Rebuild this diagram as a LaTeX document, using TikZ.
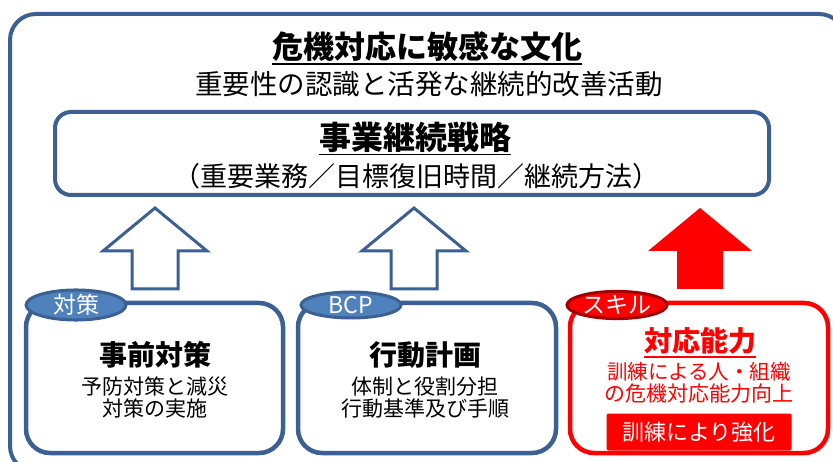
\documentclass[tikz,border=0pt]{standalone}
\usepackage{fontspec}
\setmainfont{Noto Sans CJK JP}
\usetikzlibrary{positioning,shapes.geometric}
\definecolor{frameblue}{RGB}{59,96,145}
\definecolor{tagblue}{RGB}{79,129,189}
\definecolor{tagred}{RGB}{160,0,0}

\begin{document}
\begin{tikzpicture}[x=1pt,y=-1pt]
\tikzset{box/.style={draw=frameblue,line width=4.5pt,rounded corners=24pt}}
\tikzset{tag/.style={ellipse,draw=frameblue,fill=tagblue,line width=3pt,minimum width=100pt,minimum height=26pt,inner sep=0pt,text=white,font=\fontsize{23}{23}\selectfont}}
\tikzset{txt/.style={inner sep=0pt,align=center}}
\tikzset{uline/.style={line width=1.8pt}}
\def\hd{52}
\def\sh{23}
\useasboundingbox (0,0) rectangle (833,462);
\clip (0,0) rectangle (833,462);
%
\draw[box,line width=4pt,rounded corners=26pt] (10,14) rectangle (845,472);
\node[txt,font=\fontsize{31}{31}\bfseries\selectfont] (culture) at (427,47) {危機対応に敏感な文化};
\draw[uline] ([yshift=-2pt]culture.south west) -- ([yshift=-2pt]culture.south east);
\node[txt,font=\fontsize{27.5}{27.5}\selectfont] (improve) at (429,84) {重要性の認識と活発な継続的改善活動};
%
\draw[box,line width=4pt,rounded corners=16pt] (55,112) rectangle (769,195);
\node[txt,font=\fontsize{32}{32}\bfseries\selectfont] (strategy) at (415,137) {事業継続戦略};
\draw[uline] ([yshift=-2pt]strategy.south west) -- ([yshift=-2pt]strategy.south east);
\node[txt,font=\fontsize{27}{27}\selectfont] (method) at (416,176) {（重要業務／目標復旧時間／継続方法）};
%
\foreach \cx in {155,414}
  \draw[frameblue,line width=3pt,fill=white] (\cx,208) -- (\cx+\hd,251) -- (\cx+\sh,251) -- (\cx+\sh,289)
    -- (\cx-\sh,289) -- (\cx-\sh,251) -- (\cx-\hd,251) -- cycle;
\fill[red] (700,208) -- (700+\hd,251) -- (700+\sh,251) -- (700+\sh,289)
    -- (700-\sh,289) -- (700-\sh,251) -- (700-\hd,251) -- cycle;
%
\draw[box] (26,303) rectangle (283,453);
\node[tag] (tagmeasure) at (76,305) {対策};
\node[txt,font=\fontsize{28}{28}\bfseries\selectfont] (prevent) at (155,355) {事前対策};
\node[txt,font=\fontsize{21}{21}\selectfont,below=8pt of prevent] (prevent1) {予防対策と減災};
\node[txt,font=\fontsize{21}{21}\selectfont,below=2pt of prevent1] (prevent2) {対策の実施};
%
\draw[box] (298,303) rectangle (556,453);
\node[tag] (tagbcp) at (351,305) {BCP};
\node[txt,font=\fontsize{28}{28}\bfseries\selectfont] (plan) at (425,355) {行動計画};
\node[txt,font=\fontsize{21}{21}\selectfont,below=8pt of plan] (plan1) {体制と役割分担};
\node[txt,font=\fontsize{21}{21}\selectfont,below=2pt of plan1] (plan2) {行動基準及び手順};
%
\draw[box,draw=red] (570,303) rectangle (828,453);
\node[tag,draw=tagred,fill=red] (tagskill) at (617,305) {スキル};
\node[txt,text=red,font=\fontsize{28}{28}\bfseries\selectfont] (ability) at (700,341) {対応能力};
\draw[uline,red] ([yshift=-2pt]ability.south west) -- ([yshift=-2pt]ability.south east);
\node[txt,text=red,font=\fontsize{20.5}{20.5}\selectfont] (ability1) at (699,372) {訓練による人・組織};
\node[txt,text=red,font=\fontsize{21}{21}\selectfont,below=2pt of ability1] (ability2) {の危機対応能力向上};
\node[fill=red,text=white,rounded corners=2pt,minimum width=185pt,minimum height=37pt,inner sep=0pt,font=\fontsize{22}{22}\selectfont] (train) at (699,432) {訓練により強化};
\end{tikzpicture}
\end{document}
